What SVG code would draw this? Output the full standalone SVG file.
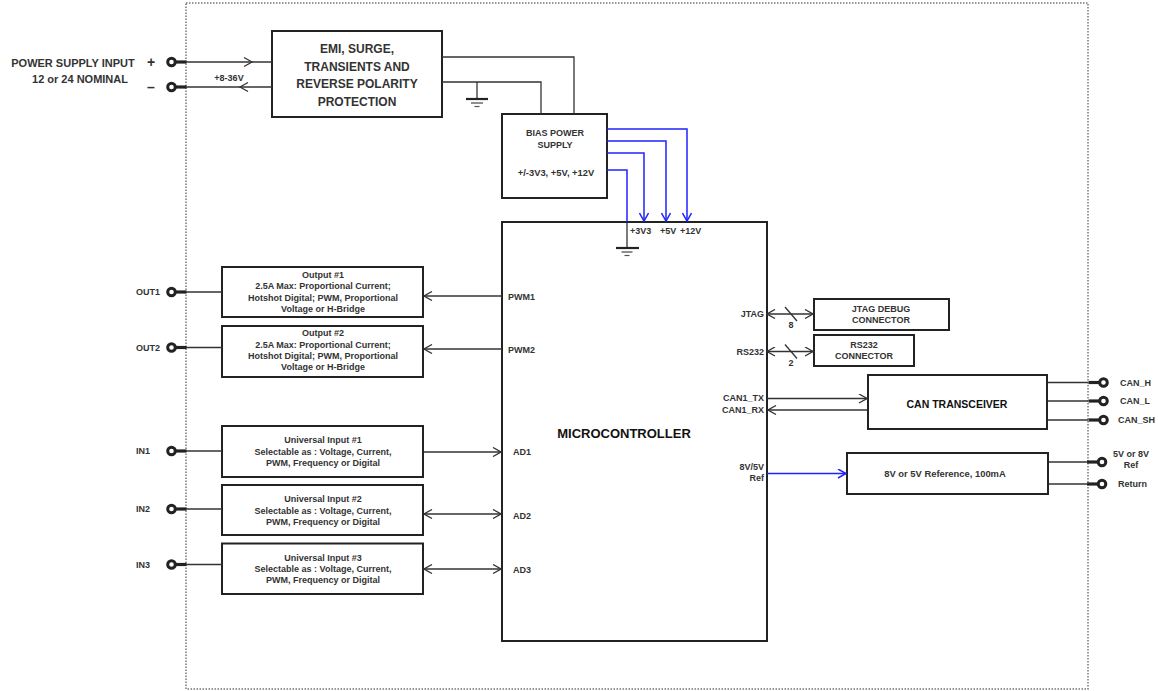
<svg xmlns="http://www.w3.org/2000/svg" xmlns:xlink="http://www.w3.org/1999/xlink" width="1158" height="691" viewBox="0 0 1158 691">
<style>
.t{font-family:"Liberation Sans",Arial,sans-serif;font-weight:bold;fill:#333;font-size:9px;dominant-baseline:central}
.m{text-anchor:middle}
.e{text-anchor:end}
.box{fill:#fff;stroke:#222;stroke-width:2}
.ln{fill:none;stroke:#333;stroke-width:1.3}
.bl{fill:none;stroke:#2222ff;stroke-width:1.5}
.stub{stroke:#222;stroke-width:3.2}
.term{fill:#fff;stroke:#222;stroke-width:3}
</style>
<defs>
<marker id="ah" viewBox="0 0 10 10" refX="9" refY="5" markerWidth="10" markerHeight="10" markerUnits="userSpaceOnUse" orient="auto-start-reverse">
<path d="M1,0.5 L9,5 L1,9.5" fill="none" stroke="#333" stroke-width="1.3"/>
</marker>
<marker id="ahb" viewBox="0 0 10 10" refX="9" refY="5" markerWidth="10" markerHeight="10" markerUnits="userSpaceOnUse" orient="auto-start-reverse">
<path d="M1,0.5 L9,5 L1,9.5" fill="none" stroke="#2222ff" stroke-width="1.5"/>
</marker>
<g id="termL"><line class="stub" x1="4" y1="0" x2="15" y2="0"/><circle class="term" cx="0" cy="0" r="3.8"/></g>
<g id="termR"><line class="stub" x1="-15" y1="0" x2="-4" y2="0"/><circle class="term" cx="0" cy="0" r="3.8"/></g>
</defs>
<rect width="1158" height="691" fill="#fff"/>
<rect id="boundary" x="186" y="3" width="902" height="686" fill="none" stroke="#777" stroke-width="1.5" stroke-dasharray="1.5 1.5"/>

<g id="power-input">
<text class="t m" x="73" y="63" style="font-size:11px">POWER SUPPLY INPUT</text>
<text class="t m" x="80" y="79" style="font-size:11px">12 or 24 NOMINAL</text>
<text class="t m" x="151" y="61.5" style="font-size:14px">+</text>
<text class="t m" x="151" y="87" style="font-size:14px">–</text>
<use xlink:href="#termL" x="171.5" y="62"/>
<use xlink:href="#termL" x="171.5" y="87"/>
<text class="t m" x="229" y="78">+8-36V</text>
</g>

<g id="emi">
<rect class="box" x="272" y="31" width="170" height="86"/>
<text class="t m" x="357" y="49" style="font-size:12px">EMI, SURGE,</text>
<text class="t m" x="357" y="66.5" style="font-size:12px">TRANSIENTS AND</text>
<text class="t m" x="357" y="84" style="font-size:12px">REVERSE POLARITY</text>
<text class="t m" x="357" y="101.5" style="font-size:12px">PROTECTION</text>
</g>

<g id="bias">
<rect class="box" x="502" y="114" width="105" height="84"/>
<text class="t m" x="555" y="133">BIAS POWER</text>
<text class="t m" x="555" y="144.5">SUPPLY</text>
<text class="t m" x="556" y="172.5" style="font-size:9.4px">+/-3V3, +5V, +12V</text>
</g>

<g id="micro">
<rect class="box" x="502" y="222" width="265" height="419"/>
<text class="t m" x="624" y="433" style="font-size:13px;fill:#111">MICROCONTROLLER</text>
<text class="t" x="630" y="231">+3V3</text>
<text class="t" x="660" y="231">+5V</text>
<text class="t" x="680" y="231">+12V</text>
<text class="t" x="508" y="296.5">PWM1</text>
<text class="t" x="508" y="349.5">PWM2</text>
<text class="t" x="513" y="452">AD1</text>
<text class="t" x="513" y="516">AD2</text>
<text class="t" x="513" y="570">AD3</text>
<text class="t e" x="764" y="314">JTAG</text>
<text class="t e" x="764" y="351.5">RS232</text>
<text class="t e" x="764" y="398">CAN1_TX</text>
<text class="t e" x="764" y="410">CAN1_RX</text>
<text class="t e" x="764" y="467">8V/5V</text>
<text class="t e" x="764" y="478">Ref</text>
<text class="t m" x="791" y="325">8</text>
<text class="t m" x="791" y="363">2</text>
</g>

<g id="output1">
<text class="t e" x="160" y="292">OUT1</text>
<use xlink:href="#termL" x="171.5" y="292"/>
<rect class="box" x="222" y="267" width="201" height="50"/>
<text class="t m" x="323" y="275">Output #1</text>
<text class="t m" x="323" y="286">2.5A Max: Proportional Current;</text>
<text class="t m" x="323" y="297.5">Hotshot Digital; PWM, Proportional</text>
<text class="t m" x="323" y="308.5">Voltage or H-Bridge</text>
</g>

<g id="output2">
<text class="t e" x="160" y="347.5">OUT2</text>
<use xlink:href="#termL" x="171.5" y="347.5"/>
<rect class="box" x="222" y="326" width="201" height="51"/>
<text class="t m" x="323" y="333">Output #2</text>
<text class="t m" x="323" y="344.5">2.5A Max: Proportional Current;</text>
<text class="t m" x="323" y="356">Hotshot Digital; PWM, Proportional</text>
<text class="t m" x="323" y="367">Voltage or H-Bridge</text>
</g>

<g id="input1">
<text class="t e" x="150" y="451">IN1</text>
<use xlink:href="#termL" x="171.5" y="451"/>
<rect class="box" x="222" y="426" width="201" height="51"/>
<text class="t m" x="323" y="440">Universal Input #1</text>
<text class="t m" x="323" y="451.5">Selectable as : Voltage, Current,</text>
<text class="t m" x="323" y="462.5">PWM, Frequency or Digital</text>
</g>

<g id="input2">
<text class="t e" x="150" y="509">IN2</text>
<use xlink:href="#termL" x="171.5" y="509"/>
<rect class="box" x="222" y="485" width="201" height="50"/>
<text class="t m" x="323" y="499">Universal Input #2</text>
<text class="t m" x="323" y="510.5">Selectable as : Voltage, Current,</text>
<text class="t m" x="323" y="521.5">PWM, Frequency or Digital</text>
</g>

<g id="input3">
<text class="t e" x="150" y="564.5">IN3</text>
<use xlink:href="#termL" x="171.5" y="564.5"/>
<rect class="box" x="222" y="543.5" width="201" height="50.5"/>
<text class="t m" x="323" y="557.5">Universal Input #3</text>
<text class="t m" x="323" y="569">Selectable as : Voltage, Current,</text>
<text class="t m" x="323" y="580">PWM, Frequency or Digital</text>
</g>

<g id="jtag">
<rect class="box" x="814" y="299" width="135" height="31"/>
<text class="t m" x="881" y="308.5">JTAG DEBUG</text>
<text class="t m" x="881" y="320">CONNECTOR</text>
</g>

<g id="rs232">
<rect class="box" x="814" y="335" width="100" height="31"/>
<text class="t m" x="864" y="344.5">RS232</text>
<text class="t m" x="864" y="356">CONNECTOR</text>
</g>

<g id="can">
<rect class="box" x="868" y="375" width="179" height="54"/>
<text class="t m" x="957" y="404" style="font-size:10.5px;fill:#111">CAN TRANSCEIVER</text>
<use xlink:href="#termR" x="1103.5" y="382.5"/>
<use xlink:href="#termR" x="1103.5" y="401"/>
<use xlink:href="#termR" x="1103.5" y="420"/>
<text class="t" x="1120" y="382.5">CAN_H</text>
<text class="t" x="1120" y="401">CAN_L</text>
<text class="t" x="1118" y="420">CAN_SH</text>
</g>

<g id="reference">
<rect class="box" x="847" y="453" width="201" height="41"/>
<text class="t m" x="945" y="473.5" style="font-size:9.4px">8V or 5V Reference, 100mA</text>
<use xlink:href="#termR" x="1102" y="462"/>
<use xlink:href="#termR" x="1102" y="484"/>
<text class="t m" x="1131" y="454">5V or 8V</text>
<text class="t m" x="1131" y="464.5">Ref</text>
<text class="t" x="1118" y="484">Return</text>
</g>

<g id="connectors">
<!-- power input -->
<line class="ln" x1="186" y1="62" x2="272" y2="62"/>
<line class="ln" x1="186" y1="87" x2="272" y2="87"/>
<polyline class="ln" points="244,57.5 252,62 244,66.5"/>
<polyline class="ln" points="248,82.5 240,87 248,91.5"/>
<!-- EMI to bias -->
<polyline class="ln" points="442,57 574,57 574,114"/>
<polyline class="ln" points="442,82 541,82 541,114"/>
<line class="ln" x1="477" y1="82" x2="477" y2="99"/>
<line stroke="#222" stroke-width="2.2" x1="466" y1="99" x2="488" y2="99"/>
<line stroke="#444" stroke-width="1.2" x1="471" y1="103" x2="483" y2="103"/>
<line stroke="#555" stroke-width="1.2" x1="474.5" y1="106.5" x2="479.5" y2="106.5"/>
<!-- bias rails -->
<polyline class="bl" points="607,129 687,129 687,221" marker-end="url(#ahb)"/>
<polyline class="bl" points="607,141 666,141 666,221" marker-end="url(#ahb)"/>
<polyline class="bl" points="607,153 644,153 644,221" marker-end="url(#ahb)"/>
<polyline class="bl" points="607,170 627,170 627,222"/>
<line class="ln" x1="627" y1="223" x2="627" y2="248"/>
<line stroke="#222" stroke-width="2.2" x1="616" y1="248" x2="639" y2="248"/>
<line stroke="#444" stroke-width="1.2" x1="621.5" y1="252" x2="632.5" y2="252"/>
<line stroke="#555" stroke-width="1.2" x1="624.5" y1="255.5" x2="629.5" y2="255.5"/>
<!-- outputs -->
<line class="ln" x1="186" y1="292" x2="222" y2="292"/>
<line class="ln" x1="186" y1="347.5" x2="222" y2="347.5"/>
<line class="ln" x1="502" y1="296" x2="424" y2="296" marker-end="url(#ah)"/>
<line class="ln" x1="502" y1="349" x2="424" y2="349" marker-end="url(#ah)"/>
<!-- inputs -->
<line class="ln" x1="186" y1="451" x2="222" y2="451"/>
<line class="ln" x1="186" y1="509" x2="222" y2="509"/>
<line class="ln" x1="186" y1="564.5" x2="222" y2="564.5"/>
<line class="ln" x1="424" y1="452" x2="501" y2="452" marker-end="url(#ah)"/>
<line class="ln" x1="424" y1="514" x2="501" y2="514" marker-start="url(#ah)" marker-end="url(#ah)"/>
<line class="ln" x1="424" y1="569" x2="501" y2="569" marker-start="url(#ah)" marker-end="url(#ah)"/>
<!-- JTAG / RS232 -->
<line class="ln" x1="767" y1="314" x2="813" y2="314" marker-start="url(#ah)" marker-end="url(#ah)"/>
<line class="ln" x1="785" y1="307" x2="797" y2="321"/>
<line class="ln" x1="767" y1="351.5" x2="813" y2="351.5" marker-start="url(#ah)" marker-end="url(#ah)"/>
<line class="ln" x1="785" y1="344.5" x2="797" y2="358.5"/>
<!-- CAN -->
<line class="ln" x1="767" y1="398.5" x2="867" y2="398.5" marker-end="url(#ah)"/>
<line class="ln" x1="867" y1="410" x2="768" y2="410" marker-end="url(#ah)"/>
<line class="ln" x1="1048" y1="382.5" x2="1088" y2="382.5"/>
<line class="ln" x1="1048" y1="401" x2="1088" y2="401"/>
<line class="ln" x1="1048" y1="420" x2="1088" y2="420"/>
<!-- reference -->
<line class="bl" x1="767" y1="473.5" x2="846" y2="473.5" marker-end="url(#ahb)"/>
<line class="ln" x1="1049" y1="462" x2="1088" y2="462"/>
<line class="ln" x1="1049" y1="484" x2="1088" y2="484"/>
</g>
</svg>
